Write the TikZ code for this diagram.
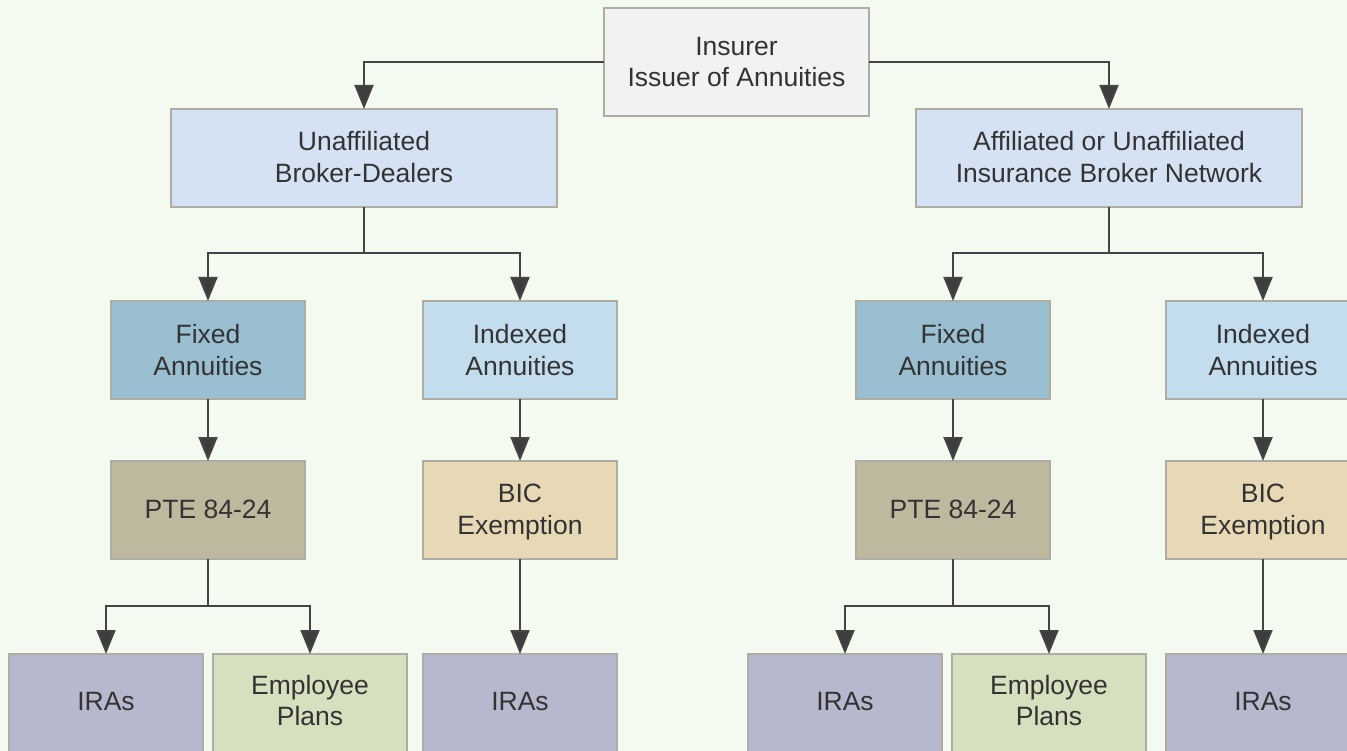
\documentclass[tikz,border=0pt]{standalone}
\usepackage{fontspec}
\setmainfont{Liberation Sans}
\usetikzlibrary{arrows.meta}
\definecolor{bgc}{HTML}{F4FAF0}
\definecolor{linec}{HTML}{444444}
\definecolor{edgec}{HTML}{ADADA6}
\definecolor{textc}{HTML}{333333}
\definecolor{insc}{HTML}{F2F2F2}
\definecolor{brokerc}{HTML}{D4E2F4}
\definecolor{fixedc}{HTML}{99BFD0}
\definecolor{indexc}{HTML}{C4DDEE}
\definecolor{ptec}{HTML}{BDB89E}
\definecolor{bicc}{HTML}{E8D9B6}
\definecolor{irac}{HTML}{B7B7CE}
\definecolor{empc}{HTML}{D6E0BE}
\newcommand{\linemove}[2]{\raisebox{#1pt}[\height][\depth]{#2}}
\tikzset{
  x=1pt,y=-1pt,
  boxbase/.style={draw=edgec,line width=1.2pt,rectangle,inner sep=0pt,outer sep=0pt,
    minimum width=194pt,minimum height=98pt,align=center,text=textc,
    font=\fontsize{26.5}{32}\selectfont},
  insbox/.style={boxbase,fill=insc,minimum width=265pt,minimum height=108pt},
  brokerbox/.style={boxbase,fill=brokerc,minimum width=386pt},
  fixedbox/.style={boxbase,fill=fixedc},
  indexbox/.style={boxbase,fill=indexc},
  ptebox/.style={boxbase,fill=ptec},
  bicbox/.style={boxbase,fill=bicc},
  irabox/.style={boxbase,fill=irac},
  empbox/.style={boxbase,fill=empc},
  conn/.style={draw=linec,line width=2pt},
  arr/.style={conn,-{Triangle[width=19pt,length=24pt,fill=linec!90!black]}},
}
\begin{document}
\begin{tikzpicture}
\useasboundingbox (0,0) rectangle (1347,751);
\clip (0,0) rectangle (1347,751);
\fill[bgc] (0,0) rectangle (1347,751);
\node[insbox] (ins) at (736.5,62) {\linemove{-1}{Insurer}\\Issuer of Annuities};
\node[brokerbox] (ub) at (364,158) {\linemove{1}{Unaffiliated}\\\linemove{1}{Broker-Dealers}};
\node[brokerbox] (ab) at (1109,158) {\linemove{1}{Affiliated or Unaffiliated}\\\linemove{1}{Insurance Broker Network}};
\node[fixedbox] (f1) at (208,350) {Fixed\\Annuities};
\node[indexbox] (x1) at (520,350) {Indexed\\Annuities};
\node[fixedbox] (f2) at (953,350) {Fixed\\Annuities};
\node[indexbox] (x2) at (1263,350) {Indexed\\Annuities};
\node[ptebox] (p1) at (208,510) {\linemove{1}{PTE 84-24}};
\node[bicbox] (b1) at (520,510) {\linemove{-2}{BIC}\\\linemove{-2}{Exemption}};
\node[ptebox] (p2) at (953,510) {\linemove{1}{PTE 84-24}};
\node[bicbox] (b2) at (1263,510) {\linemove{-2}{BIC}\\\linemove{-2}{Exemption}};
\node[irabox] (i1) at (106,703) {\linemove{1}{IRAs}};
\node[empbox] (e1) at (310,703) {\linemove{2}{Employee}\\\linemove{3}{Plans}};
\node[irabox] (i2) at (520,703) {\linemove{1}{IRAs}};
\node[irabox] (i3) at (845,703) {\linemove{1}{IRAs}};
\node[empbox] (e2) at (1049,703) {\linemove{2}{Employee}\\\linemove{3}{Plans}};
\node[irabox] (i4) at (1263,703) {\linemove{1}{IRAs}};
\coordinate (ju) at (364,253);
\coordinate (ja) at (1109,253);
\coordinate (jp1) at (208,606);
\coordinate (jp2) at (953,606);
\draw[arr] (ins.west |- 0,62) -| (ub.north);
\draw[arr] (ins.east |- 0,62) -| (ab.north);
\draw[conn] (ub.south) -- (ju);
\draw[conn] (ab.south) -- (ja);
\draw[arr] (ju) -| (f1.north);
\draw[arr] (ju) -| (x1.north);
\draw[arr] (ja) -| (f2.north);
\draw[arr] (ja) -| (x2.north);
\draw[arr] (f1.south) -- (p1.north);
\draw[arr] (x1.south) -- (b1.north);
\draw[arr] (f2.south) -- (p2.north);
\draw[arr] (x2.south) -- (b2.north);
\draw[conn] (p1.south) -- (jp1);
\draw[conn] (p2.south) -- (jp2);
\draw[arr] (jp1) -| (i1.north);
\draw[arr] (jp1) -| (e1.north);
\draw[arr] (jp2) -| (i3.north);
\draw[arr] (jp2) -| (e2.north);
\draw[arr] (b1.south) -- (i2.north);
\draw[arr] (b2.south) -- (i4.north);
\end{tikzpicture}
\end{document}
